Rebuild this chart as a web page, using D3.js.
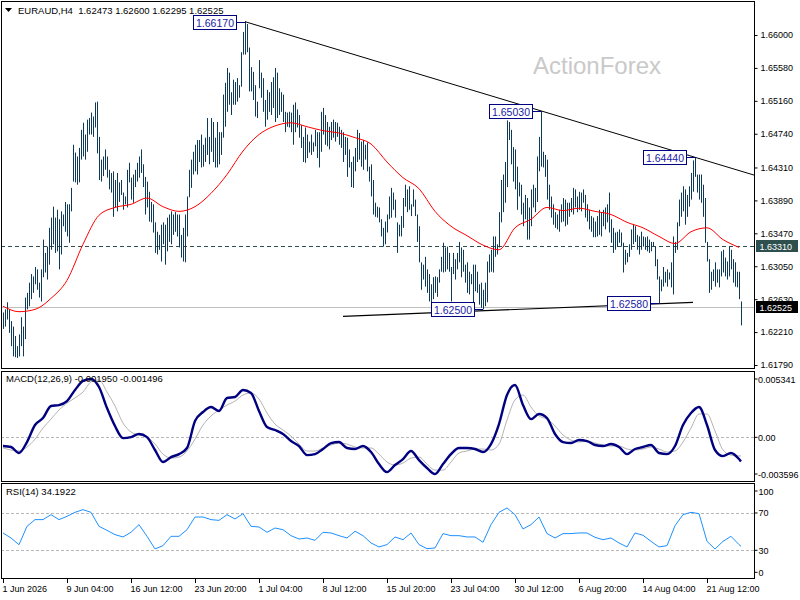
<!DOCTYPE html>
<html><head><meta charset="utf-8">
<script src="https://cdn.jsdelivr.net/npm/d3@7"></script>
<style>body{margin:0;background:#fff}svg{display:block}</style>
</head><body><svg id="c" width="800" height="600"></svg>
<script>
// ---------- DATA ----------
const symbol = "EURAUD,H4";
const lastOHLC = ["1.62473","1.62600","1.62295","1.62525"];
const barHigh = [
1.6246,1.6250,1.6259,1.6250,1.6235,1.6228,1.6216,1.6203,1.6218,1.6240,
1.6228,1.6265,1.6271,1.6284,1.6295,1.6292,1.6304,1.6301,1.6284,1.6301,
1.6339,1.6322,1.6330,1.6354,1.6367,1.6381,1.6367,1.6377,1.6365,1.6375,
1.6371,1.6387,1.6384,1.6384,1.6405,1.6460,1.6450,1.6445,1.6456,1.6479,
1.6488,1.6473,1.6492,1.6494,1.6501,1.6496,1.6514,1.6515,1.6470,1.6441,
1.6445,1.6454,1.6445,1.6428,1.6424,1.6426,1.6415,1.6424,1.6412,1.6415,
1.6399,1.6394,1.6428,1.6437,1.6418,1.6422,1.6428,1.6437,1.6445,1.6454,
1.6435,1.6419,1.6413,1.6400,1.6387,1.6384,1.6361,1.6349,1.6345,1.6358,
1.6361,1.6358,1.6367,1.6371,1.6375,1.6371,1.6374,1.6371,1.6371,1.6345,
1.6354,1.6371,1.6394,1.6428,1.6441,1.6451,1.6460,1.6466,1.6466,1.6473,
1.6460,1.6469,1.6494,1.6470,1.6494,1.6489,1.6469,1.6489,1.6476,1.6476,
1.6524,1.6539,1.6558,1.6552,1.6527,1.6543,1.6540,1.6545,1.6536,1.6578,
1.6604,1.6617,1.6614,1.6584,1.6559,1.6553,1.6536,1.6515,1.6568,1.6552,
1.6545,1.6517,1.6530,1.6527,1.6540,1.6546,1.6558,1.6552,1.6532,1.6527,
1.6524,1.6502,1.6501,1.6502,1.6501,1.6511,1.6514,1.6505,1.6498,1.6485,
1.6470,1.6482,1.6473,1.6464,1.6473,1.6463,1.6479,1.6476,1.6476,1.6502,
1.6507,1.6498,1.6489,1.6483,1.6489,1.6492,1.6489,1.6488,1.6483,1.6479,
1.6476,1.6470,1.6469,1.6454,1.6438,1.6445,1.6456,1.6479,1.6475,1.6464,
1.6466,1.6460,1.6463,1.6432,1.6435,1.6415,1.6386,1.6381,1.6380,1.6365,
1.6354,1.6362,1.6371,1.6394,1.6405,1.6399,1.6390,1.6361,1.6358,1.6369,
1.6392,1.6409,1.6403,1.6407,1.6384,1.6403,1.6390,1.6371,1.6356,1.6310,
1.6307,1.6317,1.6301,1.6295,1.6282,1.6291,1.6292,1.6291,1.6301,1.6317,
1.6335,1.6329,1.6330,1.6322,1.6304,1.6322,1.6314,1.6322,1.6336,1.6329,
1.6326,1.6307,1.6310,1.6298,1.6295,1.6307,1.6307,1.6298,1.6282,1.6284,
1.6275,1.6284,1.6311,1.6320,1.6326,1.6343,1.6343,1.6333,1.6374,1.6415,
1.6422,1.6438,1.6491,1.6489,1.6479,1.6457,1.6454,1.6432,1.6412,1.6409,
1.6386,1.6396,1.6392,1.6380,1.6403,1.6409,1.6405,1.6445,1.6470,1.6503,
1.6451,1.6447,1.6441,1.6409,1.6394,1.6384,1.6374,1.6371,1.6377,1.6384,
1.6392,1.6390,1.6386,1.6386,1.6392,1.6405,1.6403,1.6394,1.6400,1.6399,
1.6403,1.6396,1.6384,1.6377,1.6369,1.6367,1.6362,1.6369,1.6377,1.6374,
1.6377,1.6380,1.6384,1.6399,1.6365,1.6354,1.6348,1.6349,1.6352,1.6348,
1.6335,1.6326,1.6322,1.6333,1.6352,1.6358,1.6356,1.6345,1.6343,1.6349,
1.6343,1.6342,1.6343,1.6339,1.6336,1.6336,1.6330,1.6314,1.6292,1.6288,
1.6304,1.6298,1.6301,1.6297,1.6310,1.6343,1.6336,1.6361,1.6390,1.6399,
1.6407,1.6403,1.6396,1.6407,1.6424,1.6440,1.6444,1.6422,1.6422,1.6422,
1.6409,1.6392,1.6336,1.6314,1.6298,1.6301,1.6310,1.6301,1.6301,1.6324,
1.6326,1.6316,1.6311,1.6330,1.6326,1.6314,1.6310,1.6298,1.6298,1.6260];
const barLow = [
1.6225,1.6228,1.6237,1.6220,1.6203,1.6190,1.6189,1.6188,1.6190,1.6203,
1.6190,1.6212,1.6250,1.6254,1.6263,1.6271,1.6282,1.6275,1.6265,1.6260,
1.6291,1.6297,1.6288,1.6307,1.6326,1.6333,1.6322,1.6324,1.6301,1.6320,
1.6356,1.6349,1.6343,1.6335,1.6375,1.6413,1.6412,1.6409,1.6412,1.6441,
1.6445,1.6441,1.6451,1.6473,1.6473,1.6470,1.6482,1.6449,1.6415,1.6413,
1.6420,1.6428,1.6418,1.6403,1.6399,1.6368,1.6380,1.6375,1.6387,1.6396,
1.6377,1.6384,1.6380,1.6412,1.6390,1.6386,1.6406,1.6413,1.6418,1.6424,
1.6406,1.6371,1.6380,1.6362,1.6361,1.6348,1.6322,1.6320,1.6326,1.6311,
1.6333,1.6307,1.6324,1.6336,1.6333,1.6345,1.6349,1.6343,1.6329,1.6316,
1.6311,1.6310,1.6343,1.6393,1.6405,1.6422,1.6426,1.6422,1.6438,1.6431,
1.6432,1.6438,1.6447,1.6435,1.6451,1.6438,1.6431,1.6431,1.6435,1.6447,
1.6469,1.6483,1.6502,1.6511,1.6498,1.6511,1.6511,1.6515,1.6520,1.6534,
1.6575,1.6575,1.6578,1.6528,1.6528,1.6517,1.6496,1.6494,1.6532,1.6520,
1.6502,1.6483,1.6492,1.6502,1.6498,1.6507,1.6489,1.6494,1.6498,1.6502,
1.6489,1.6476,1.6483,1.6482,1.6476,1.6460,1.6476,1.6482,1.6469,1.6456,
1.6438,1.6437,1.6443,1.6450,1.6447,1.6451,1.6458,1.6443,1.6431,1.6451,
1.6473,1.6460,1.6458,1.6454,1.6466,1.6469,1.6464,1.6470,1.6460,1.6456,
1.6438,1.6447,1.6419,1.6431,1.6406,1.6405,1.6426,1.6438,1.6441,1.6432,
1.6428,1.6441,1.6426,1.6413,1.6394,1.6371,1.6368,1.6367,1.6361,1.6343,
1.6330,1.6333,1.6348,1.6365,1.6367,1.6377,1.6367,1.6322,1.6343,1.6343,
1.6354,1.6381,1.6374,1.6377,1.6369,1.6381,1.6369,1.6336,1.6310,1.6275,
1.6288,1.6279,1.6271,1.6260,1.6259,1.6263,1.6271,1.6266,1.6284,1.6298,
1.6297,1.6298,1.6301,1.6298,1.6260,1.6295,1.6288,1.6301,1.6310,1.6291,
1.6298,1.6284,1.6271,1.6269,1.6282,1.6259,1.6273,1.6271,1.6256,1.6252,
1.6250,1.6254,1.6259,1.6297,1.6298,1.6297,1.6317,1.6320,1.6329,1.6361,
1.6374,1.6386,1.6406,1.6466,1.6435,1.6413,1.6403,1.6377,1.6394,1.6371,
1.6356,1.6365,1.6339,1.6339,1.6356,1.6380,1.6374,1.6387,1.6426,1.6432,
1.6431,1.6419,1.6390,1.6377,1.6367,1.6358,1.6354,1.6352,1.6349,1.6361,
1.6362,1.6356,1.6358,1.6368,1.6374,1.6371,1.6380,1.6374,1.6377,1.6375,
1.6386,1.6367,1.6362,1.6352,1.6349,1.6342,1.6342,1.6343,1.6345,1.6343,
1.6356,1.6352,1.6361,1.6348,1.6335,1.6322,1.6326,1.6330,1.6335,1.6330,
1.6297,1.6307,1.6310,1.6317,1.6326,1.6333,1.6336,1.6326,1.6320,1.6326,
1.6330,1.6326,1.6324,1.6322,1.6324,1.6330,1.6305,1.6288,1.6258,1.6273,
1.6279,1.6284,1.6279,1.6288,1.6278,1.6269,1.6322,1.6326,1.6356,1.6368,
1.6375,1.6358,1.6368,1.6381,1.6390,1.6400,1.6419,1.6399,1.6390,1.6386,
1.6368,1.6335,1.6311,1.6271,1.6275,1.6286,1.6279,1.6284,1.6278,1.6292,
1.6297,1.6292,1.6288,1.6292,1.6301,1.6284,1.6279,1.6278,1.6263,1.62295];
// moving average, read every 8 bars
const maValues = [1.6254,1.6247,1.6250,1.6264,1.6287,1.6333,1.6370,1.6380,1.6384,1.6392,
1.6381,1.6375,1.6381,1.6398,1.6422,1.6452,1.6473,1.6484,1.6488,1.6483,
1.6478,1.6475,1.6469,1.6461,1.6438,1.6418,1.6404,1.6375,1.6356,1.6344,
1.6332,1.6326,1.6354,1.6365,1.6380,1.6376,1.6379,1.6375,1.6371,1.6361,
1.6354,1.6343,1.6334,1.6349,1.6354,1.6339,1.6329];
// indicators, read every 4 bars plus the last bar
const macdMain = [-0.00070,-0.00078,-0.00126,-0.00038,0.00099,0.00155,0.00252,0.00260,0.00292,0.00381,
0.00454,0.00470,0.00405,0.00236,0.00091,-0.00006,0.00002,0.00027,0.00002,-0.00102,
-0.00199,-0.00159,-0.00135,-0.00086,0.00131,0.00204,0.00244,0.00212,0.00317,0.00325,
0.00381,0.00357,0.00212,0.00083,0.00059,0.00027,-0.00030,-0.00070,-0.00143,-0.00135,
-0.00094,-0.00046,-0.00038,-0.00086,-0.00094,-0.00070,-0.00118,-0.00215,-0.00280,-0.00223,
-0.00175,-0.00110,-0.00183,-0.00247,-0.00296,-0.00215,-0.00135,-0.00086,-0.00086,-0.00094,
-0.00118,-0.00054,0.00107,0.00341,0.00421,0.00260,0.00147,0.00188,0.00155,0.00027,
-0.00038,-0.00046,-0.00022,-0.00030,-0.00062,-0.00070,-0.00054,-0.00078,-0.00135,-0.00094,
-0.00078,-0.00062,-0.00126,-0.00135,-0.00070,0.00099,0.00196,0.00244,0.00099,-0.00102,
-0.00151,-0.00126,-0.00175,-0.00195];
const macdSignal = [-0.00086,-0.00102,-0.00110,-0.00078,-0.00014,0.00075,0.00147,0.00220,0.00276,0.00317,
0.00365,0.00446,0.00462,0.00365,0.00252,0.00115,0.00043,0.00019,0.00002,-0.00054,
-0.00135,-0.00167,-0.00159,-0.00110,-0.00014,0.00099,0.00172,0.00220,0.00260,0.00292,
0.00341,0.00357,0.00309,0.00196,0.00107,0.00059,0.00010,-0.00054,-0.00110,-0.00110,
-0.00086,-0.00062,-0.00046,-0.00054,-0.00078,-0.00086,-0.00086,-0.00135,-0.00199,-0.00223,
-0.00207,-0.00167,-0.00159,-0.00215,-0.00264,-0.00264,-0.00199,-0.00126,-0.00110,-0.00094,
-0.00094,-0.00102,-0.00054,0.00139,0.00301,0.00341,0.00244,0.00172,0.00147,0.00091,
0.00019,-0.00022,-0.00038,-0.00030,-0.00046,-0.00062,-0.00070,-0.00070,-0.00094,-0.00102,
-0.00094,-0.00078,-0.00094,-0.00118,-0.00110,-0.00038,0.00075,0.00188,0.00188,0.00051,
-0.00102,-0.00143,-0.00150,-0.001496];
const rsiValues = [48.6,43.2,36.0,55.7,62.9,62.9,68.2,62.9,66.4,70.7,
73.6,70.7,55.7,51.4,46.8,44.3,49.3,57.5,45.0,31.5,
35.0,45.0,45.0,52.1,65.7,65.7,62.9,62.1,68.2,63.6,
69.3,55.7,55.0,49.3,53.9,52.1,45.7,42.1,43.2,40.7,
49.3,48.6,45.7,43.2,50.4,45.7,37.9,33.6,36.1,44.3,
41.4,48.6,36.1,31.8,32.5,47.9,45.7,45.7,44.3,44.3,
38.6,57.5,70.7,75.4,68.2,52.9,57.5,65.7,47.9,43.2,
47.9,47.9,48.6,48.6,43.9,41.4,43.2,37.9,33.6,48.6,
46.1,39.6,33.6,35.0,56.4,68.2,70.7,69.3,39.6,31.4,
39.6,45.0,36.1,34.1922];
const priceTicks = [1.66000,1.65580,1.65160,1.64740,1.64310,1.63890,1.63470,1.63050,1.62630,1.62210,1.61790];
const macdTicks = [0.005341,0,-0.003596];
const macdTickLabels = ["0.005341","0.00","-0.003596"];
const rsiTicks = [100,70,30,0];
const rsiLevels = [70,30];
const timeLabels = ["1 Jun 2026","9 Jun 04:00","16 Jun 12:00","23 Jun 20:00","1 Jul 04:00","8 Jul 12:00",
"15 Jul 20:00","23 Jul 04:00","30 Jul 12:00","6 Aug 20:00","14 Aug 04:00","21 Aug 12:00"];
const timeLabelStep = 32; // bars between time labels
const pivots = [{bar:121,price:1.6617},{bar:269,price:1.6503},{bar:346,price:1.6444},{bar:240,price:1.6250},{bar:328,price:1.6258}];
const resistanceLine = [[121,1.6617],[346,1.6444]];
const supportLine = [[170,1.6241],[345,1.6259]];
const levelPrice = 1.6331;
const bidPrice = 1.62525;

// ---------- LAYOUT ----------
const FONT = "'Liberation Sans',Arial,sans-serif";
const FS = 9;
const n = barHigh.length;
const svg = d3.select("#c");
const x = d3.scaleLinear().domain([0, n-1]).range([3, 741]);
const yP = d3.scaleLinear().domain([1.6179, 1.6600]).range([365, 35]);
const yM = d3.scaleLinear().domain([-0.003596, 0.005341]).range([482, 371]);
const yR = d3.scaleLinear().domain([0, 100]).range([578.3, 485]);
const RIGHT = 754.5;
const panels = {main:[1.5,368.5], macd:[371.5,481.5], rsi:[483.5,578.5]};

const defs = svg.append("defs");
Object.entries(panels).forEach(([k,[t,b]])=>{
  defs.append("clipPath").attr("id","clip-"+k).append("rect")
    .attr("x",2).attr("y",t+0.5).attr("width",RIGHT-2.5).attr("height",b-t-1);
});

svg.append("rect").attr("width",800).attr("height",600).attr("fill","#fff");

// watermark
svg.append("text").attr("x",533).attr("y",74).text("ActionForex")
  .attr("font-family",FONT).attr("font-size",24).attr("fill","#c9c9c9");

const gMain = svg.append("g").attr("clip-path","url(#clip-main)");

// level lines
gMain.append("line").attr("x1",1).attr("x2",RIGHT).attr("y1",Math.round(yP(levelPrice))+0.5).attr("y2",Math.round(yP(levelPrice))+0.5)
  .attr("stroke","#2f4f4f").attr("stroke-dasharray","4,3");
gMain.append("line").attr("x1",1).attr("x2",RIGHT).attr("y1",Math.round(yP(bidPrice))+0.5).attr("y2",Math.round(yP(bidPrice))+0.5)
  .attr("stroke","#c0c0c0");

// bars
gMain.selectAll("line.bar").data(barHigh).join("line").attr("class","bar")
  .attr("x1",(d,i)=>Math.round(x(i))+0.5).attr("x2",(d,i)=>Math.round(x(i))+0.5)
  .attr("y1",d=>yP(d)).attr("y2",(d,i)=>Math.max(yP(barLow[i]), yP(d)+1.5))
  .attr("stroke","#0c3a58").attr("stroke-width",1);

// moving average
const maBars = d3.range(0, n, 8);
gMain.append("path").datum(maBars.map((b,i)=>[b,maValues[i]]))
  .attr("d", d3.line().x(d=>x(d[0])).y(d=>yP(d[1])).curve(d3.curveMonotoneX))
  .attr("fill","none").attr("stroke","#ff0000").attr("stroke-width",1);

// trendlines
function lineAt(pts, b){const [[b1,p1],[b2,p2]]=pts; return p1+(p2-p1)*(b-b1)/(b2-b1);}
gMain.append("line").attr("x1",x(resistanceLine[0][0])).attr("y1",yP(resistanceLine[0][1]))
  .attr("x2",x(n+8)).attr("y2",yP(lineAt(resistanceLine,n+8))).attr("stroke","#000").attr("stroke-width",1);
gMain.append("line").attr("x1",x(supportLine[0][0])).attr("y1",yP(supportLine[0][1]))
  .attr("x2",x(supportLine[1][0])).attr("y2",yP(supportLine[1][1])).attr("stroke","#000").attr("stroke-width",1.2);

// pivot labels
const fmt5 = d3.format(".5f");
pivots.forEach(p=>{
  const px = x(p.bar), py = Math.round(yP(p.price))+0.5;
  const bw = 43, bh = 14, right = Math.round(px) - 9;
  gMain.append("line").attr("x1",right).attr("x2",px).attr("y1",py).attr("y2",py).attr("stroke","#000080");
  gMain.append("rect").attr("x",right-bw+0.5).attr("y",py-bh/2).attr("width",bw).attr("height",bh)
    .attr("fill","#fff").attr("stroke","#000080");
  gMain.append("text").attr("x",right-bw/2+0.5).attr("y",py+4).attr("text-anchor","middle")
    .attr("font-family",FONT).attr("font-size",10.5).attr("fill","#1a1aa6").text(fmt5(p.price));
});

// panel frames
Object.values(panels).forEach(([t,b])=>{
  svg.append("rect").attr("x",1.5).attr("y",t).attr("width",RIGHT-1.5).attr("height",b-t)
    .attr("fill","none").attr("stroke","#000");
});

// price axis
const axP = d3.axisRight(yP).tickValues(priceTicks).tickSize(3).tickPadding(3).tickFormat(fmt5);
svg.append("g").attr("transform",`translate(${RIGHT},0)`).call(axP)
  .call(g=>g.select(".domain").remove())
  .call(g=>g.selectAll("text").attr("font-family",FONT).attr("font-size",FS).attr("fill","#000"));

// right price boxes
function priceBox(v, fill){
  const yy = Math.round(yP(v));
  svg.append("rect").attr("x",RIGHT+1.5).attr("y",yy-6).attr("width",42).attr("height",12).attr("fill",fill);
  svg.append("text").attr("x",RIGHT+5).attr("y",yy+3.5).attr("font-family",FONT).attr("font-size",FS)
    .attr("fill","#fff").text(fmt5(v));
}
priceBox(levelPrice, "#2f4f4f");
priceBox(bidPrice, "#000");

// header
svg.append("path").attr("d","M5,8 L12,8 L8.5,12 Z").attr("fill","#000");
svg.append("text").attr("x",18).attr("y",14).attr("font-family",FONT).attr("font-size",9.5).attr("fill","#000")
  .style("white-space","pre").text(symbol + "  " + lastOHLC.join(" "));

// ---------- MACD ----------
const indBars = d3.range(0, n-1, 4).concat([n-1]);
const gM = svg.append("g").attr("clip-path","url(#clip-macd)");
gM.append("line").attr("x1",1).attr("x2",RIGHT).attr("y1",Math.round(yM(0))+0.5).attr("y2",Math.round(yM(0))+0.5)
  .attr("stroke","#b8b8b8").attr("stroke-dasharray","3,2");
gM.append("path").datum(indBars.map((b,i)=>[b,macdSignal[i]]))
  .attr("d", d3.line().x(d=>x(d[0])).y(d=>yM(d[1])).curve(d3.curveMonotoneX))
  .attr("fill","none").attr("stroke","#b4b4b4").attr("stroke-width",1);
gM.append("path").datum(indBars.map((b,i)=>[b,macdMain[i]]))
  .attr("d", d3.line().x(d=>x(d[0])).y(d=>yM(d[1])).curve(d3.curveMonotoneX))
  .attr("fill","none").attr("stroke","#000080").attr("stroke-width",2.4);
svg.append("text").attr("x",6).attr("y",382).attr("font-family",FONT).attr("font-size",9.5).attr("fill","#000")
  .text(`MACD(12,26,9) ${macdMain[macdMain.length-1].toFixed(6)} ${macdSignal[macdSignal.length-1].toFixed(6)}`);
macdTicks.forEach((v,i)=>{
  let yy = yM(v); if(i===0) yy += 8; if(i===macdTicks.length-1) yy -= 8;
  svg.append("line").attr("x1",RIGHT).attr("x2",RIGHT+3).attr("y1",yy).attr("y2",yy).attr("stroke","#000");
  svg.append("text").attr("x",RIGHT+3.5).attr("y",yy+3.5).attr("font-family",FONT).attr("font-size",FS).attr("fill","#000")
    .text(macdTickLabels[i]);
});

// ---------- RSI ----------
const gR = svg.append("g").attr("clip-path","url(#clip-rsi)");
rsiLevels.forEach(v=>{
  gR.append("line").attr("x1",1).attr("x2",RIGHT).attr("y1",Math.round(yR(v))+0.5).attr("y2",Math.round(yR(v))+0.5)
    .attr("stroke","#b8b8b8").attr("stroke-dasharray","3,2");
});
gR.append("path").datum(indBars.map((b,i)=>[b,rsiValues[i]]))
  .attr("d", d3.line().x(d=>x(d[0])).y(d=>yR(d[1])))
  .attr("fill","none").attr("stroke","#1e90ff").attr("stroke-width",1);
svg.append("text").attr("x",6).attr("y",495).attr("font-family",FONT).attr("font-size",9.5).attr("fill","#000")
  .text(`RSI(14) ${rsiValues[rsiValues.length-1].toFixed(4)}`);
rsiTicks.forEach(v=>{
  let yy = yR(v); if(v===100) yy += 6; if(v===0) yy -= 6;
  svg.append("line").attr("x1",RIGHT).attr("x2",RIGHT+3).attr("y1",yy).attr("y2",yy).attr("stroke","#000");
  svg.append("text").attr("x",RIGHT+4).attr("y",yy+3.5).attr("font-family",FONT).attr("font-size",FS).attr("fill","#000").text(v);
});

// ---------- TIME AXIS ----------
const gT = svg.append("g");
timeLabels.forEach((t,i)=>{
  const xx = Math.round(x(i*timeLabelStep))+0.5;
  gT.append("line").attr("x1",xx).attr("x2",xx).attr("y1",578.5).attr("y2",583).attr("stroke","#000");
  gT.append("text").attr("x",xx-1).attr("y",592).attr("font-family",FONT).attr("font-size",FS).attr("fill","#000").text(t);
});
</script></body></html>
